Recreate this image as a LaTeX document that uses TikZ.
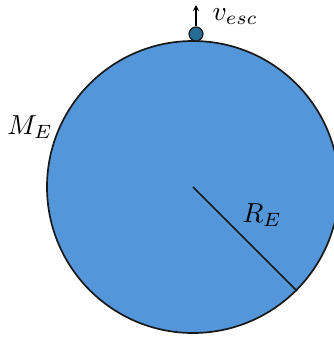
\documentclass[tikz,border=0pt]{standalone}
\usepackage{tikz}
\usetikzlibrary{arrows.meta}
\definecolor{earth}{RGB}{84,150,218}
\definecolor{ball}{RGB}{38,108,148}
\tikzset{
  lbl/.style={inner sep=0pt, scale=2.75},
  edge/.style={line width=1.7pt, draw=black!90}
}
\begin{document}
\begin{tikzpicture}[x=1pt,y=-1pt]
\useasboundingbox (0,0) rectangle (334,338);
\begin{scope}
\clip (0,0) rectangle (334,338);
\node[circle, fill=earth, edge, minimum size=292pt, inner sep=0pt] (earth) at (193,187) {};
\end{scope}
\coordinate (c) at (193,187);
\coordinate (r) at (297,291);
\draw[edge] (c) -- (r);
\node[circle, fill=ball, edge, line width=1.2pt, minimum size=14pt, inner sep=0pt] (b) at (196,34) {};
\coordinate (tip) at (196,5);
\draw[line width=1.4pt, -{Stealth[length=6pt,width=6pt]}] (b.north) -- (tip);
\node[lbl, anchor=west] (v) at (212,17) {$v_{esc}$};
\node[lbl] (m) at (30,127) {$M_E$};
\node[lbl] (re) at (262,215) {$R_E$};
\end{tikzpicture}
\end{document}
